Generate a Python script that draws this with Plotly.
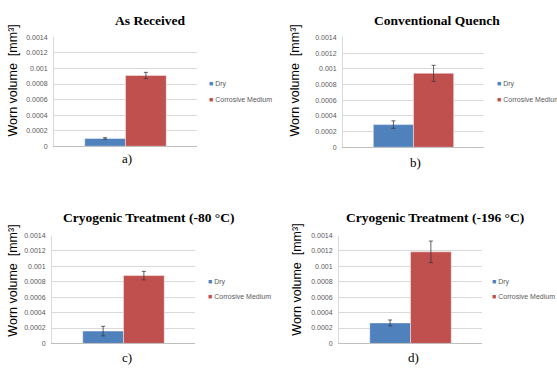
import plotly.graph_objects as go

W, H = 557, 368

panel_titles = ["As Received", "Conventional Quench",
                "Cryogenic Treatment (-80 °C)", "Cryogenic Treatment (-196 °C)"]
panel_labels = ["a)", "b)", "c)", "d)"]
series_names = ["Dry", "Corrosive Medium"]
series_colors = ["#4F81BD", "#C0504D"]

dry_values = [0.000100, 0.000288, 0.000160, 0.000266]
dry_errors = [0.000010, 0.000048, 0.000062, 0.000038]
corr_values = [0.000910, 0.000942, 0.000880, 0.001188]
corr_errors = [0.000040, 0.000102, 0.000055, 0.000140]

tick_vals = [0, 0.0002, 0.0004, 0.0006, 0.0008, 0.001, 0.0012, 0.0014]
tick_text = ["0", "0.0002", "0.0004", "0.0006", "0.0008", "0.001", "0.0012", "0.0014"]
y_title = "Worn volume  [mm³]"

# layout geometry in pixels: plot area (x0, x1, y0, y1)
plot_boxes = [(54, 197, 34, 145), (343, 484, 34, 146),
              (52, 195, 236, 346), (339, 482, 236, 346)]
title_pos = [(150, 17), (437, 17), (148, 218), (435, 218)]
label_pos = [(127, 157), (415, 162), (127, 360), (413, 360)]
ytitle_pos = [(13, 78), (295, 78), (13, 282), (297, 281)]
legend_pos = [(207, 82, 97), (495, 82, 97), (206, 283, 298), (490, 283, 298)]

def px(x):
    return x / W

def py(y):
    return 1 - y / H

fig = go.Figure()
annotations = []
values = [dry_values, corr_values]
errors = [dry_errors, corr_errors]

for i in range(4):
    ax = "" if i == 0 else str(i + 1)
    for s in range(2):
        fig.add_trace(go.Bar(
            x=["c"], y=[values[s][i]], name=series_names[s],
            marker=dict(color=series_colors[s], line=dict(color="rgba(255,255,255,0.55)", width=0.8)),
            error_y=dict(type="data", array=[errors[s][i]], color="#3a3a3a", thickness=0.8, width=2),
            xaxis="x" + ax, yaxis="y" + ax, showlegend=False,
        ))
    x0, x1, y0, y1 = plot_boxes[i]
    fig.layout["xaxis" + ax] = dict(
        domain=[px(x0), px(x1)], anchor="y" + ax, showticklabels=False,
        showline=True, linecolor="#BFBFBF", linewidth=1, showgrid=False, ticks="", fixedrange=True,
    )
    fig.layout["yaxis" + ax] = dict(
        domain=[py(y1), py(y0)], anchor="x" + ax, range=[0, 0.0014],
        tickvals=tick_vals, ticktext=tick_text, showgrid=True, gridcolor="#D9D9D9", gridwidth=1,
        zeroline=False, showline=True, linecolor="#D9D9D9", linewidth=1, ticks="",
        tickfont=dict(family="Liberation Sans, Arial", size=7, color="#595959"),
        ticklabelstandoff=4,
    )
    tx, ty = title_pos[i]
    annotations.append(dict(x=px(tx), y=py(ty), xref="paper", yref="paper", text="<b>%s</b>" % panel_titles[i],
                            showarrow=False, xanchor="center", yanchor="middle",
                            font=dict(family="Liberation Serif, Times New Roman", size=13.5, color="#000000")))
    lx, ly = label_pos[i]
    annotations.append(dict(x=px(lx), y=py(ly), xref="paper", yref="paper", text=panel_labels[i],
                            showarrow=False, xanchor="center", yanchor="middle",
                            font=dict(family="Liberation Serif, Times New Roman", size=13, color="#000000")))
    yx, yy = ytitle_pos[i]
    annotations.append(dict(x=px(yx), y=py(yy), xref="paper", yref="paper", text=y_title, textangle=-90,
                            showarrow=False, xanchor="center", yanchor="middle",
                            font=dict(family="Liberation Sans, Arial", size=12.5, color="#000000")))
    gx, gy1, gy2 = legend_pos[i]
    for s, gy in enumerate([gy1, gy2]):
        annotations.append(dict(x=px(gx), y=py(gy), xref="paper", yref="paper",
                                text="<span style='color:%s'>■</span> %s" % (series_colors[s], series_names[s]),
                                showarrow=False, xanchor="left", yanchor="middle",
                                font=dict(family="Liberation Sans, Arial", size=7, color="#595959")))

fig.update_layout(
    width=W, height=H, margin=dict(l=0, r=0, t=0, b=0),
    paper_bgcolor="white", plot_bgcolor="white",
    barmode="group", bargap=0.43, bargroupgap=0,
    annotations=annotations,
)

fig.write_html("out.html", config={"displayModeBar": False},
               post_script="document.body.style.margin='0';document.body.style.overflow='hidden';")
